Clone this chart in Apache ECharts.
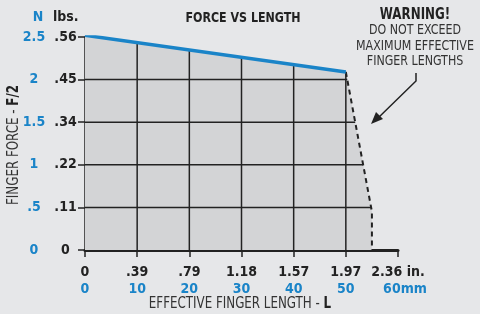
<!DOCTYPE html>
<html>
<head>
    <meta charset="utf-8">
    <title>Force vs Length</title>
    <script src="https://cdn.jsdelivr.net/npm/echarts@6/dist/echarts.min.js"></script>
    <style>
        html, body { margin: 0; padding: 0; background: #e6e7e9; }
        #main { width: 480px; height: 314px; }
    </style>
</head>
<body>
    <div id="main"></div>
    <script>
        // values
        var lengthMm = [0, 50];
        var forceN = [2.52, 2.09];
        var warnLengthMm = [50, 55, 55];
        var warnForceN = [2.09, 0.45, 0];
        var mmTicks = [0, 10, 20, 30, 40, 50, 60];
        var inchLabels = ['0', '.39', '.79', '1.18', '1.57', '1.97', '2.36'];
        var nTicks = [0, 0.5, 1, 1.5, 2, 2.5];
        var nLabels = ['0', '.5', '1', '1.5', '2', '2.5'];
        var lbsLabels = ['0', '.11', '.22', '.34', '.45', '.56'];

        var FONT = '"DejaVu Sans Condensed", "Liberation Sans Narrow", sans-serif';
        var BLUE = '#1a84c8';
        var INK = '#222';
        var SQ = 0.88; // horizontal squeeze for the free text

        var chartDom = document.getElementById('main');
        var myChart = echarts.init(chartDom);

        // outline of the shaded region (solid part then the dashed part)
        var outline = [[0, 0]];
        lengthMm.forEach(function (x, i) { outline.push([x, forceN[i]]); });
        warnLengthMm.slice(1).forEach(function (x, i) { outline.push([x, warnForceN[i + 1]]); });

        function topAt(x) {
            for (var i = 1; i < outline.length - 1; i++) {
                var a = outline[i], b = outline[i + 1];
                if (x >= a[0] && x <= b[0] && b[0] > a[0]) {
                    return a[1] + (b[1] - a[1]) * (x - a[0]) / (b[0] - a[0]);
                }
            }
            return 0;
        }
        function rightAt(y) {
            for (var i = outline.length - 2; i >= 1; i--) {
                var a = outline[i], b = outline[i + 1];
                var lo = Math.min(a[1], b[1]), hi = Math.max(a[1], b[1]);
                if (y >= lo && y <= hi && hi > lo) {
                    return a[0] + (b[0] - a[0]) * (y - a[1]) / (b[1] - a[1]);
                }
            }
            return 0;
        }

        var option = {
            backgroundColor: '#e6e7e9',
            animation: false,
            textStyle: { fontFamily: FONT },
            grid: { left: 85, right: 82, top: 37, bottom: 64 },
            xAxis: {
                type: 'value',
                min: 0, max: 60, interval: 10,
                axisLine: { lineStyle: { color: INK, width: 3 } },
                axisTick: { length: 7, lineStyle: { color: INK, width: 1.5 } },
                splitLine: { show: false },
                axisLabel: {
                    margin: 14,
                    formatter: function (v) {
                        var i = mmTicks.indexOf(v);
                        if (i === mmTicks.length - 1) {
                            return '{a|' + inchLabels[i] + ' in.}\n{c|' + v + 'mm}';
                        }
                        return '{a|' + inchLabels[i] + '}\n{b|' + v + '}';
                    },
                    rich: {
                        a: { color: INK, fontWeight: 'bold', fontSize: 14, lineHeight: 17, fontFamily: FONT },
                        b: { color: BLUE, fontWeight: 'bold', fontSize: 14, lineHeight: 17, fontFamily: FONT },
                        c: { color: BLUE, fontWeight: 'bold', fontSize: 14, lineHeight: 17, fontFamily: FONT, padding: [0, 0, 0, 14] }
                    }
                }
            },
            yAxis: {
                type: 'value',
                min: 0, max: 2.5, interval: 0.5,
                axisLine: { show: true, lineStyle: { color: INK, width: 2.5 } },
                axisTick: { show: true, length: 7, lineStyle: { color: INK, width: 1.5 } },
                splitLine: { show: false },
                axisLabel: {
                    margin: 9,
                    formatter: function (v) {
                        var i = nTicks.indexOf(v);
                        return '{n|' + nLabels[i] + '}{s|}{l|' + lbsLabels[i] + '}';
                    },
                    rich: {
                        n: { color: BLUE, fontWeight: 'bold', fontSize: 14, width: 26, align: 'right', fontFamily: FONT },
                        s: { width: 8 },
                        l: { color: INK, fontWeight: 'bold', fontSize: 14, width: 21, align: 'left', fontFamily: FONT }
                    }
                }
            },
            graphic: [
                { type: 'text', x: 243, y: 18, scaleX: SQ, style: { text: 'FORCE VS LENGTH', fill: INK, font: 'bold 14px ' + FONT, align: 'center', verticalAlign: 'middle' } },
                { type: 'text', x: 38, y: 17, style: { text: 'N', fill: BLUE, font: 'bold 14px ' + FONT, align: 'center', verticalAlign: 'middle' } },
                { type: 'text', x: 53, y: 17, style: { text: 'lbs.', fill: INK, font: 'bold 14px ' + FONT, align: 'left', verticalAlign: 'middle' } },
                { type: 'text', x: 415, y: 15, scaleX: SQ, style: { text: 'WARNING!', fill: INK, font: 'bold 15px ' + FONT, align: 'center', verticalAlign: 'middle' } },
                { type: 'text', x: 415, y: 23, scaleX: SQ, style: { text: 'DO NOT EXCEED\nMAXIMUM EFFECTIVE\nFINGER LENGTHS', fill: '#333', font: '14px ' + FONT, lineHeight: 15.5, align: 'center', verticalAlign: 'top' } },
                { type: 'polyline', shape: { points: [[416, 73], [416, 81], [377, 119]] }, style: { stroke: INK, lineWidth: 1.5, fill: null } },
                { type: 'polygon', shape: { points: [[371, 124], [383, 119], [376, 112]] }, style: { fill: INK } },
                {
                    type: 'text', x: 14, y: 145, rotation: Math.PI / 2, scaleX: SQ,
                    style: {
                        text: 'FINGER FORCE - {b|F/2}', fill: '#333', font: '15px ' + FONT, align: 'center', verticalAlign: 'middle',
                        rich: { b: { fontWeight: 'bold', fill: INK, fontSize: 15, fontFamily: FONT } }
                    }
                },
                {
                    type: 'text', x: 240, y: 304, scaleX: SQ,
                    style: {
                        text: 'EFFECTIVE FINGER LENGTH - {b|L}', fill: '#333', font: '15px ' + FONT, align: 'center', verticalAlign: 'middle',
                        rich: { b: { fontWeight: 'bold', fill: INK, fontSize: 15, fontFamily: FONT } }
                    }
                }
            ],
            series: [
                {
                    name: 'area',
                    type: 'custom',
                    data: [0],
                    silent: true,
                    z: 1,
                    renderItem: function (params, api) {
                        var pts = outline.map(function (p) { return api.coord(p); });
                        var kids = [{ type: 'polygon', shape: { points: pts }, style: { fill: '#d3d4d6' } }];
                        mmTicks.forEach(function (x) {
                            if (x <= 0 || x > outline[outline.length - 1][0]) return;
                            var p0 = api.coord([x, 0]), p1 = api.coord([x, topAt(x)]);
                            kids.push({ type: 'line', shape: { x1: p0[0], y1: p0[1], x2: p1[0], y2: p1[1] }, style: { stroke: INK, lineWidth: 1.5 } });
                        });
                        nTicks.forEach(function (y) {
                            if (y <= 0 || y >= 2.09) return;
                            var p0 = api.coord([0, y]), p1 = api.coord([rightAt(y), y]);
                            kids.push({ type: 'line', shape: { x1: p0[0], y1: p0[1], x2: p1[0], y2: p1[1] }, style: { stroke: INK, lineWidth: 1.5 } });
                        });
                        return { type: 'group', children: kids };
                    }
                },
                {
                    name: 'force',
                    type: 'line',
                    data: lengthMm.map(function (x, i) { return [x, forceN[i]]; }),
                    showSymbol: false,
                    lineStyle: { color: BLUE, width: 3.5 },
                    z: 5
                },
                {
                    name: 'limit',
                    type: 'line',
                    data: warnLengthMm.map(function (x, i) { return [x, warnForceN[i]]; }),
                    showSymbol: false,
                    lineStyle: { color: INK, width: 2, type: [5, 4] },
                    z: 4
                }
            ]
        };

        myChart.setOption(option);
    </script>
</body>
</html>
